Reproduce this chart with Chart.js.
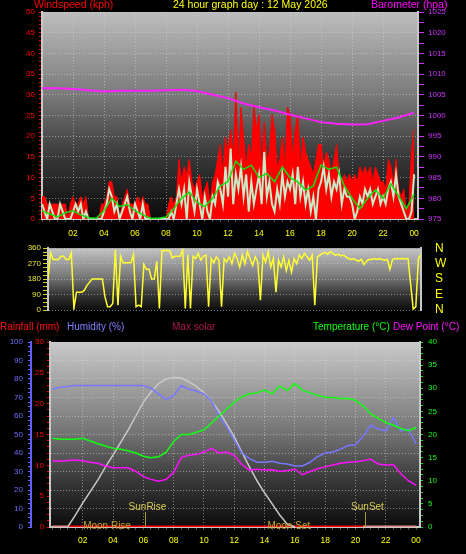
<!DOCTYPE html>
<html>
<head>
<meta charset="utf-8">
<script src="https://cdn.jsdelivr.net/npm/chart.js@4/dist/chart.umd.min.js"></script>
<style>
  body { margin:0; background:#000; width:466px; height:554px; overflow:hidden; position:relative; font-family:"Liberation Sans", Arial, sans-serif; }
  canvas { position:absolute; left:0; }
  .t { position:absolute; font-size:10.5px; line-height:12px; white-space:nowrap; }
  .b { font-size:10px; }
</style>
</head>
<body>
<canvas id="windChart" width="466" height="240" style="top:0"></canvas>
<canvas id="dirChart" width="466" height="80" style="top:240px"></canvas>
<canvas id="tempChart" width="466" height="236" style="top:318px"></canvas>

<div class="t" style="left:34px;top:-2px;color:#ff0000">Windspeed (kph)</div>
<div class="t" style="left:173px;top:-2px;color:#ffff00">24 hour graph day : 12 May 2026</div>
<div class="t" style="left:371px;top:-2px;color:#ff00ff">Barometer (hpa)</div>
<div class="t b" style="left:0px;top:321px;color:#ff1010">Rainfall (mm)</div>
<div class="t b" style="left:67px;top:321px;color:#8080ff">Humidity (%)</div>
<div class="t b" style="left:172px;top:321px;color:#b01850">Max solar</div>
<div class="t b" style="left:313px;top:321px;color:#10ff10">Temperature (°C)</div>
<div class="t b" style="left:393px;top:321px;color:#ff10ff">Dew Point (°C)</div>

<script>
// wind, 10 minute readings (kph)
const windGust = [
  5.4,5.4,3.6,3.6,3.6,3.6, 3.6,3.6,3.6,3.6,0,3.6, 5.4,3.6,3.6,5.4,3.6,5.4, 0,0,0,0,0,3.6,
  3.6,5.4,9,9,5.4,5.4, 0,3.6,5.4,7.2,3.6,3.6, 3.6,5.4,3.6,5.4,3.6,3.6, 0,0,0,0,0,0,
  0,3.6,5.4,3.6,5.4,14.4, 9,12.6,10.8,14.4,9,7.2, 9,10.8,5.4,7.2,9,3.6, 9,10.8,14.4,18,10.8,19.8,
  16.2,21.6,14.4,30.6,12.6,27, 19.8,12.6,18,14.4,27,21.6, 25.2,12.6,23.4,14.4,16.2,25.2, 21.6,12.6,14.4,19.8,12.6,27,
  25.2,14.4,21.6,25.2,12.6,19.8, 16.2,14.4,12.6,10.8,14.4,18, 18,12.6,16.2,14.4,10.8,14.4, 18,10.8,9,10.8,9,10.8,
  9,10.8,9,12.6,10.8,12.6, 10.8,12.6,9,12.6,10.8,9, 9,7.2,14.4,12.6,9,14.4, 7.2,5.4,7.2,1.8,3.6,16.2,
  21.6
];
const windSpeed = [
  3.6,1.8,0,3.6,1.8,0, 0,3.6,1.8,0,0,0, 1.8,3.6,1.8,3.6,0,1.8, 0,0,0,0,0,0,
  1.8,3.6,7.2,5.4,1.8,3.6, 0,1.8,3.6,5.4,1.8,0, 3.6,1.8,0,3.6,0,0, 0,0,0,0,0,0,
  0,0,1.8,0,3.6,7.2, 3.6,7.2,0,9,5.4,1.8, 7.2,3.6,0,5.4,1.8,0, 5.4,3.6,9,7.2,3.6,12.6,
  5.4,17,3.6,10.8,7.2,12.6, 5.4,10.8,1.8,9,3.6,7.2, 10.8,3.6,16.2,5.4,9,3.6, 1.8,7.2,3.6,10.8,5.4,9,
  7.2,10.8,3.6,12.6,5.4,9, 3.6,7.2,1.8,5.4,0,7.2, 9,12.6,7.2,10.8,5.4,9, 7.2,10.8,3.6,7.2,5.4,5.4,
  3.6,0,1.8,5.4,3.6,7.2, 5.4,7.2,3.6,5.4,7.2,3.6, 5.4,3.6,7.2,9,5.4,10.8, 5.4,3.6,1.8,0,0,1.8,
  10.8
];
// 30 minute average
const windAvg = [
  2,1.2, 0.5,1.5, 2,1, 0.3,0.2, 2,5, 3,3.5, 2,1, 0.2,0.2, 0.5,2.5, 5,6.5, 4,3, 5,8,
  9,14, 12,13, 10,11, 9,12.5, 10,9, 7,8, 13,12, 12.5,8, 5,2.5, 5,7, 5,8.5, 5.5,2.5, 6
];
// hourly barometer (hpa)
const baro = [1006.6,1006.6,1006.4,1006.1,1005.8,1006,1006,1006,1006.1,1006.2,1005.9,1005,1004.2,
  1002.9,1002,1001.2,1000.2,999.3,998.4,998,997.8,997.9,998.7,999.5,1000.7];

// wind direction, 10 minute readings (degrees)
const windDir = [
  180,332,294,294,294,313, 313,294,294,332,9,104, 104,104,114,142,161,180, 180,180,180,180,76,19,
  19,38,351,28,313,275, 275,275,275,322,19,28, 19,265,237,237,180,180, 284,9,347,347,347,347,
  303,313,313,313,351,9, 322,9,313,300,330,290, 313,320,19,300,275,310, 290,19,300,280,310,270,
  330,300,250,320,270,340, 300,260,310,280,57,320, 280,340,250,300,104,290, 250,310,230,290,220,300,
  270,320,300,330,310,290, 320,28,310,320,330,335, 325,340,330,320,325,315, 320,310,300,295,300,290,
  285,295,265,285,295,294, 300,294,300,294,290,294, 237,295,298,300,298,300, 298,300,150,5,19,300,
  322
];
const compass = ['N','E','S','W','N'];

// 30 minute readings
const humidity = [74.5,75.5,76,76.5,76.5,76.5,76.5,76.5,76.5,76.5,76.5,76.5,76.5,75,72,69,71,76.5,
  74.5,73.5,72,68,60,54,47,40,37,35,35,35.5,34.5,34,33,33,35,38,40,40.5,42,44,44.5,49,55,53,52,59,52,53,45];
const temperature = [19.2,19,19,19,19.2,18.6,18,17.5,17,16.8,16.5,16,15.3,15,15.2,16.2,18.5,20,
  20,20.5,21,22.5,24,25.5,27,28.2,28.8,29,29.6,28.8,30.5,29.5,31,29.6,29,28.5,28,28,27.8,27.8,27.4,
  26.2,24.5,23.5,22.6,22,21.3,20.8,21.5];
const dewPoint = [14.3,14.2,14.4,14.5,14.3,14,13.8,13.2,12.8,12.8,12.8,12,10.9,10.3,9.9,10.3,11.8,15,
  15.5,15.7,16.2,17,16,16.2,15.5,13.5,12.3,12.5,12.3,12.4,12,12.2,12.5,11.3,12,12.6,13,13.4,13.8,14,
  14.1,14.3,14.7,13.6,13.4,13.5,11.5,10,9];
const maxSolar = [0,0,0,75,156,231,306,390,468,549,630,720,810,876,930,960,969,966,942,912,870,816,
  750,669,585,486,390,300,222,150,78,18,0,0,0,0,0,0,0,0,0,0,0,0,0,0,0,0,0];
const rainfall = [0,0,0,0,0,0,0,0,0,0,0,0,0,0,0,0,0,0,0,0,0,0,0,0,0,0,0,0,0,0,0,0,0,0,0,0,0,0,0,0,0,
  0,0,0,0,0,0,0,0];

// hour tick positions (half hours, labels on the even hours)
const hourTicks = Array.from({length: 49}, (_, i) => i / 2);

const sunEvents = [{label:'SunRise', hour:6.1}, {label:'SunSet', hour:20.6}];
const moonEvents = [{label:'Moon Rise', hour:3.6}, {label:'Moon Set', hour:15.6}];

Chart.defaults.font.family = '"Liberation Sans", Arial, sans-serif';
Chart.defaults.font.size = 8;
Chart.defaults.animation = false;
Chart.defaults.plugins.legend.display = false;
Chart.defaults.plugins.tooltip.enabled = false;
Chart.defaults.elements.point.radius = 0;
Chart.defaults.elements.line.tension = 0;

const gridCol = 'rgba(215,215,215,0.55)';
const edgeCol = '#c8c8c8';
const pts = (arr, step) => arr.map((v, i) => ({x: i * step, y: v}));
const fixW = w => s => { s.width = w; };
const fixH = h => s => { s.height = h; };
const hourLabel = v => (v > 0 && v % 2 === 0) ? String(v % 24).padStart(2, '0') : '';
const every = n => v => v % n === 0 ? v : '';

// grey to black backdrop inside the plot area
const plotBg = {
  id: 'plotBg',
  beforeDraw(chart, args, opts) {
    const {ctx, chartArea: a} = chart;
    const g = ctx.createLinearGradient(0, a.top, 0, a.bottom);
    opts.stops.forEach(s => g.addColorStop(s[0], s[1]));
    ctx.save();
    ctx.fillStyle = g;
    ctx.fillRect(a.left, a.top, a.right - a.left, a.bottom - a.top);
    ctx.restore();
  }
};

function hourAxis(max, min, pad, height) {
  return {
    type: 'linear', min: min, max: max,
    afterBuildTicks: s => { s.ticks = hourTicks.map(v => ({value: v})); },
    ticks: {autoSkip: false, maxRotation: 0, color: '#ffff00', font: {size: 8.5},
      padding: pad, callback: hourLabel},
    grid: {color: c => (c.tick && c.tick.value % 2 === 0 && c.tick.value > 0 && c.tick.value < 24) ? gridCol : 'transparent',
      tickColor: '#555', tickLength: 3},
    border: {color: edgeCol, width: 2, dash: [1, 2]},
    afterFit: fixH(height)
  };
}

new Chart(document.getElementById('windChart'), {
  type: 'line',
  plugins: [plotBg],
  data: {
    datasets: [
      {data: pts(baro, 1), yAxisID: 'yB', borderColor: '#ff20ff', borderWidth: 2, order: 0},
      {data: pts(windAvg, 0.5), borderColor: '#10e010', borderWidth: 1.5, order: 1},
      {data: pts(windSpeed, 1 / 6), borderColor: '#c8ecc8', borderWidth: 2, order: 2},
      {data: pts(windGust, 1 / 6), borderColor: '#ff0000', backgroundColor: '#ff0000', borderWidth: 1,
        fill: 'origin', order: 3}
    ]
  },
  options: {
    responsive: false,
    devicePixelRatio: 1,
    layout: {padding: {top: 12}},
    plugins: {plotBg: {stops: [[0, '#bdbdbd'], [0.4, '#7a7a7a'], [0.7, '#383838'], [1, '#0a0a0a']]}},
    scales: {
      x: hourAxis(24.25, 0, 7, 21),
      y: {position: 'left', min: 0, max: 50,
        ticks: {stepSize: 1, autoSkip: false, color: '#ff0000', padding: 4, callback: every(5)},
        grid: {color: c => c.tick.value % 5 === 0 ? gridCol : 'transparent', tickColor: '#ff0000', tickLength: 3},
        border: {color: edgeCol, width: 2, dash: [1, 2]},
        afterFit: fixW(42)},
      yB: {position: 'right', min: 975, max: 1025,
        ticks: {stepSize: 2.5, autoSkip: false, color: '#cc30ff', padding: 4, callback: every(5)},
        grid: {drawOnChartArea: false, tickColor: '#cc30ff', tickLength: 6},
        border: {color: edgeCol, width: 2},
        afterFit: fixW(48)}
    }
  }
});

new Chart(document.getElementById('dirChart'), {
  type: 'line',
  plugins: [plotBg],
  data: {
    datasets: [
      {data: pts(windDir, 1 / 6), borderColor: '#ffff30', borderWidth: 1.5}
    ]
  },
  options: {
    responsive: false,
    devicePixelRatio: 1,
    layout: {padding: {top: 7, bottom: 10}},
    plugins: {plotBg: {stops: [[0, '#c4c4c4'], [0.45, '#7a7a7a'], [0.75, '#353535'], [1, '#0c0c0c']]}},
    scales: {
      x: {type: 'linear', min: 0, max: 24, display: false},
      y: {position: 'left', min: 0, max: 360,
        ticks: {stepSize: 22.5, autoSkip: false, color: '#e8e830', padding: 2, callback: every(90)},
        grid: {color: c => c.tick.value % 90 === 0 ? gridCol : 'transparent', tickColor: '#d0d020', tickLength: 5},
        border: {color: edgeCol, width: 2, dash: [1, 2]},
        afterFit: fixW(48)},
      yN: {position: 'right', min: 0, max: 360,
        ticks: {stepSize: 90, autoSkip: false, color: '#ffff00', font: {size: 12}, padding: 1,
          callback: v => compass[v / 90]},
        grid: {drawOnChartArea: false, tickLength: 13, tickColor: 'transparent'},
        border: {color: edgeCol, width: 2},
        afterFit: fixW(45)}
    }
  }
});

// sun rise / set markers and moon labels on the bottom panel
const sunMoon = {
  id: 'sunMoon',
  afterDatasetsDraw(chart) {
    const {ctx, chartArea: a, scales: {x}} = chart;
    ctx.save();
    ctx.font = '10px "Liberation Sans", Arial, sans-serif';
    ctx.textAlign = 'center';
    ctx.textBaseline = 'middle';
    sunEvents.forEach(e => {
      const px = Math.round(x.getPixelForValue(e.hour)) + 0.5;
      ctx.strokeStyle = '#a09a30';
      ctx.lineWidth = 1;
      ctx.beginPath();
      ctx.moveTo(px, a.bottom);
      ctx.lineTo(px, a.bottom - 15);
      ctx.stroke();
      ctx.fillStyle = '#d8cc50';
      ctx.fillText(e.label, px + 2, a.bottom - 20);
    });
    ctx.fillStyle = '#c0a830';
    moonEvents.forEach(e => ctx.fillText(e.label, x.getPixelForValue(e.hour), a.bottom - 1));
    ctx.restore();
  }
};

new Chart(document.getElementById('tempChart'), {
  type: 'line',
  plugins: [plotBg, sunMoon],
  data: {
    datasets: [
      {data: pts(dewPoint, 0.5), yAxisID: 'yT', borderColor: '#ff10ff', borderWidth: 1.5},
      {data: pts(temperature, 0.5), yAxisID: 'yT', borderColor: '#10ff10', borderWidth: 1.5},
      {data: pts(humidity, 0.5), yAxisID: 'yH', borderColor: '#7878ff', borderWidth: 1.5},
      {data: pts(maxSolar, 0.5), yAxisID: 'yS', borderColor: '#c8c8c8', borderWidth: 1.5,
        segment: {borderColor: c => (c.p0.parsed.y === 0 && c.p1.parsed.y === 0) ? 'transparent' : undefined}},
      {data: pts(rainfall, 0.5), yAxisID: 'yR', borderColor: '#ff0000', borderWidth: 3,
        segment: {borderColor: c => (c.p1.parsed.x <= 1 || c.p0.parsed.x >= 20.5) ? '#f08c8c' : undefined}}
    ]
  },
  options: {
    responsive: false,
    devicePixelRatio: 1,
    layout: {padding: {top: 24}},
    plugins: {plotBg: {stops: [[0, '#cacaca'], [0.5, '#727272'], [0.75, '#383838'], [1, '#0c0c0c']]}},
    scales: {
      x: hourAxis(24.26, -0.165, 6, 27),
      yH: {position: 'left', weight: 1, min: 0, max: 100,
        ticks: {stepSize: 2.5, autoSkip: false, color: '#7070ff', padding: 5, callback: every(10)},
        grid: {color: c => c.tick.value % 10 === 0 ? gridCol : 'transparent', tickColor: '#6a6aff', tickLength: 3},
        border: {color: '#6060ff', width: 2, dash: [1, 2]},
        afterFit: fixW(31)},
      yR: {position: 'left', weight: 0, min: 0, max: 30,
        ticks: {stepSize: 1, autoSkip: false, color: '#ff0000', padding: 3, callback: every(5)},
        grid: {drawOnChartArea: false, tickColor: '#ff0000', tickLength: 3},
        border: {color: edgeCol, width: 2},
        afterFit: fixW(19)},
      yT: {position: 'right', min: 0, max: 40,
        ticks: {stepSize: 1.25, autoSkip: false, color: '#10ff10', padding: 5, callback: every(5)},
        grid: {drawOnChartArea: false, tickColor: '#10e010', tickLength: 3},
        border: {color: edgeCol, width: 2},
        afterFit: fixW(46)},
      yS: {display: false, min: 0, max: 1200}
    }
  }
});
</script>
</body>
</html>
